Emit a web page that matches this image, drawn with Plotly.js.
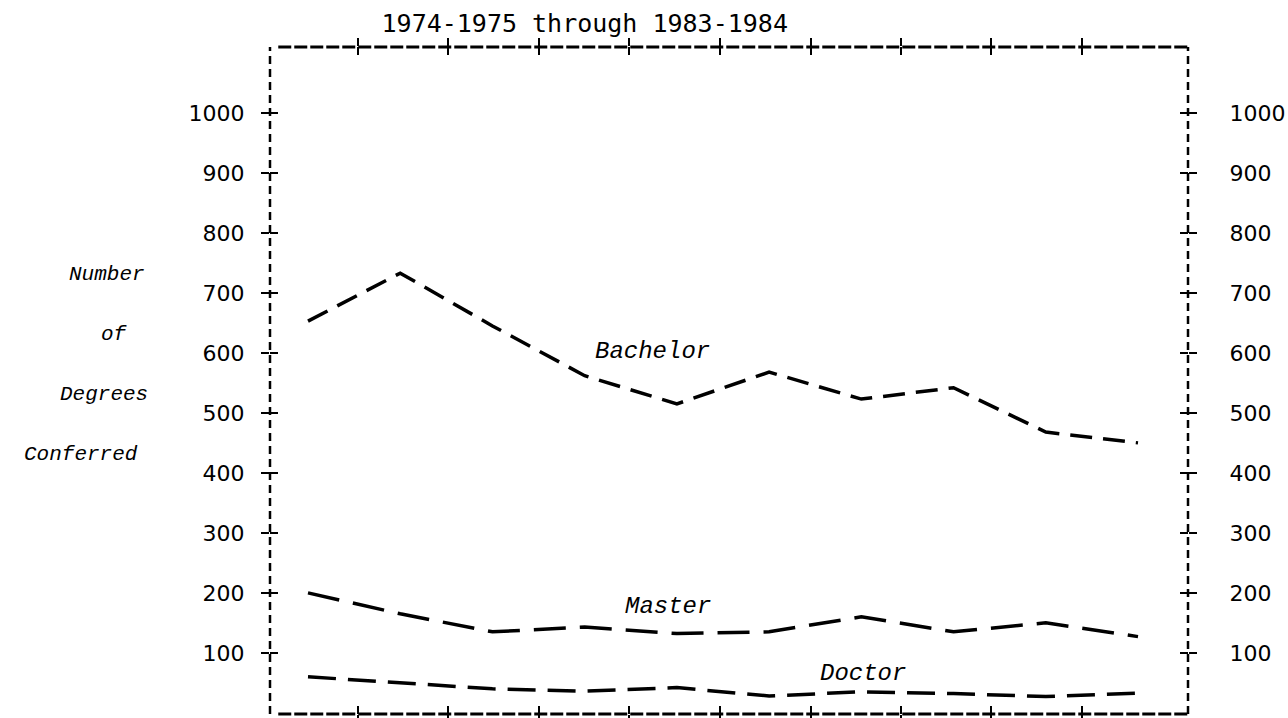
<!DOCTYPE html>
<html>
<head>
<meta charset="utf-8">
<script src="https://cdn.plot.ly/plotly-3.0.1.min.js"></script>
<style>html,body{margin:0;padding:0;background:#fff;}#chart{width:1288px;height:718px;}</style>
</head>
<body>
<div id="chart"></div>
<script>
// ---- data ----
const years = ['1974-1975','1975-1976','1976-1977','1977-1978','1978-1979','1979-1980','1980-1981','1981-1982','1982-1983','1983-1984'];
const bachelor = [653, 733, 645, 562, 515, 568, 523, 542, 468, 450];
const master   = [200, 165, 135, 143, 132, 135, 160, 135, 150, 127];
const doctor   = [60, 50, 40, 36, 42, 28, 35, 32, 27, 33];
const yTickVals = [100, 200, 300, 400, 500, 600, 700, 800, 900, 1000];
const yTickText = ['100', '200', '300', '400', '500', '600', '700', '800', '900', '1000'];
const seriesNames = ['Bachelor', 'Master', 'Doctor'];
const yTitleWords = ['Number', 'of', 'Degrees', 'Conferred'];
const chartTitle = '1974-1975 through 1983-1984';

// ---- layout helpers ----
const xIdx = years.map((_, i) => i);
const xRange = [-0.412, 9.542];
const yRange = [-2, 1110];
const xTickVals = [0.54, 1.52, 2.50, 3.48, 4.47, 5.45, 6.43, 7.41, 8.39];

const lineStyles = [
  {dash: '22px,11px', width: 3.5},
  {dash: '32px,14px', width: 3.5},
  {dash: '28px,12px', width: 3.5}
];
const seriesData = [bachelor, master, doctor];

const traces = seriesData.map((vals, k) => ({
  type: 'scatter', mode: 'lines', name: seriesNames[k],
  x: xIdx, y: vals, xaxis: 'x', yaxis: 'y',
  line: {color: '#000', width: lineStyles[k].width, dash: lineStyles[k].dash},
  hoverinfo: 'skip', showlegend: false
}));
// helper trace so the overlaying axes exist
traces.push({type: 'scatter', mode: 'lines', x: [null], y: [null], xaxis: 'x2', yaxis: 'y2', showlegend: false, hoverinfo: 'skip'});

const tickFont = {family: 'DejaVu Sans, sans-serif', size: 22, color: '#000'};
const labelFont = {family: 'Liberation Mono, Courier New, monospace', size: 24, color: '#000', style: 'italic'};

const annPos = [
  {x: 3.74, y: 602},
  {x: 3.90, y: 178},
  {x: 6.02, y: 65}
];
const annotations = seriesNames.map((n, k) => ({
  text: n, x: annPos[k].x, y: annPos[k].y, xref: 'x', yref: 'y',
  showarrow: false, font: labelFont, xanchor: 'center', yanchor: 'middle'
}));
const titleRows = [730, 630, 530, 430];
const titleRight = [-0.134, -0.1525, -0.1307, -0.1416];
yTitleWords.forEach((w, i) => annotations.push({
  text: w, x: titleRight[i], y: titleRows[i], xref: 'paper', yref: 'y',
  showarrow: false, font: {family: 'Liberation Mono, monospace', size: 21, color: '#000', style: 'italic'},
  xanchor: 'right', yanchor: 'middle'
}));

const shapes = [
  {type: 'line', xref: 'paper', yref: 'paper', x0: 0, x1: 0, y0: 0, y1: 1, line: {color: '#000', width: 2.5, dash: '8px,5px'}},
  {type: 'line', xref: 'paper', yref: 'paper', x0: 1, x1: 1, y0: 0, y1: 1, line: {color: '#000', width: 2.5, dash: '8px,5px'}},
  {type: 'line', xref: 'paper', yref: 'paper', x0: 0.009, x1: 1, y0: 1, y1: 1, line: {color: '#000', width: 3, dash: '13px,3px'}},
  {type: 'line', xref: 'paper', yref: 'paper', x0: 0.009, x1: 1, y0: 0, y1: 0, line: {color: '#000', width: 3, dash: '13px,3px'}}
];

const layout = {
  width: 1288, height: 718,
  margin: {l: 270, r: 100, t: 47, b: 4, pad: 0},
  paper_bgcolor: '#fff', plot_bgcolor: '#fff',
  title: {text: chartTitle, x: 0.454, xref: 'container', xanchor: 'center', y: 0.967, yref: 'container', yanchor: 'middle',
          font: {family: 'DejaVu Sans Mono, monospace', size: 25, color: '#000'}},
  xaxis: {type: 'linear', range: xRange, showgrid: false, zeroline: false, showline: true, linecolor: 'rgba(0,0,0,0)',
          tickmode: 'array', tickvals: xTickVals, ticks: 'outside', ticklen: 8, tickwidth: 2, tickcolor: '#000',
          mirror: 'allticks', showticklabels: false, fixedrange: true},
  xaxis2: {type: 'linear', range: xRange, overlaying: 'x', anchor: 'y', showgrid: false, zeroline: false, showline: true, linecolor: 'rgba(0,0,0,0)',
          tickmode: 'array', tickvals: xTickVals, ticks: 'inside', ticklen: 8, tickwidth: 2, tickcolor: '#000',
          mirror: 'allticks', showticklabels: false, fixedrange: true},
  yaxis: {range: yRange, showgrid: false, zeroline: false, showline: true, linecolor: 'rgba(0,0,0,0)',
          tickmode: 'array', tickvals: yTickVals, ticktext: yTickText, ticks: 'outside', ticklen: 8, tickwidth: 2, tickcolor: '#000',
          mirror: 'allticks', tickfont: tickFont, ticklabelstandoff: 12, fixedrange: true},
  yaxis2: {range: yRange, overlaying: 'y', side: 'right', anchor: 'x', showgrid: false, zeroline: false, showline: true, linecolor: 'rgba(0,0,0,0)',
          tickmode: 'array', tickvals: yTickVals, ticktext: yTickText, ticks: 'inside', ticklen: 8, tickwidth: 2, tickcolor: '#000',
          mirror: 'allticks', tickfont: tickFont, ticklabelstandoff: 36, fixedrange: true},
  shapes: shapes,
  annotations: annotations,
  showlegend: false
};

Plotly.newPlot('chart', traces, layout, {displayModeBar: false, staticPlot: true});
</script>
</body>
</html>
